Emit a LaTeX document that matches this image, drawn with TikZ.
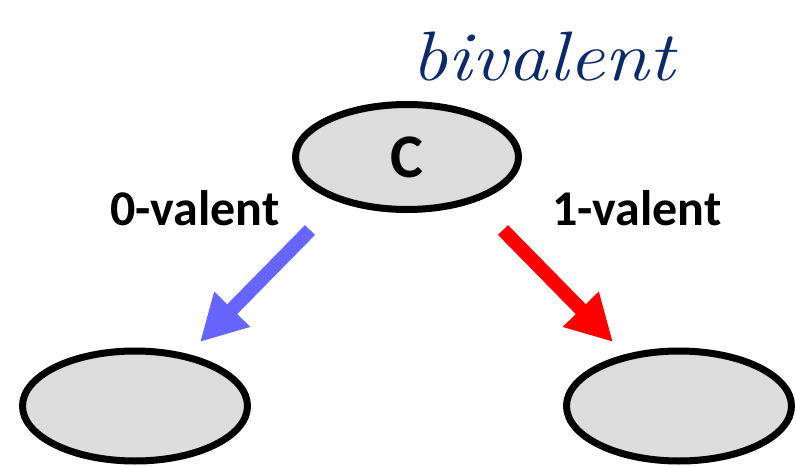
\documentclass[tikz,border=0pt]{standalone}
\usepackage{fontspec}
\setmainfont{Latin Modern Roman}
\newfontfamily\labelfont{Carlito}
\usetikzlibrary{shapes.geometric,arrows.meta}

\definecolor{stategray}{HTML}{DCDCDC}
\definecolor{zeroblue}{HTML}{6666FF}
\definecolor{onered}{HTML}{FF0000}
\definecolor{inkblue}{HTML}{0B2A6B}

\tikzset{
  state/.style={ellipse, draw=black, line width=7pt, fill=stategray, inner sep=0pt},
  valence/.style={font=\labelfont\bfseries\fontsize{50}{50}\selectfont, anchor=base},
  bigarrow/.style={line width=14pt, -{Triangle[length=46pt,width=47pt]}},
  note/.style={font=\rmfamily\itshape\fontsize{70}{70}\selectfont, text=inkblue, anchor=base, xscale=1.15}
}

\begin{document}
\begin{tikzpicture}[x=1pt,y=-1pt]
  \useasboundingbox (0,0) rectangle (796,466);

  % configurations
  \node[state, minimum width=223pt, minimum height=105pt] (c) at (407,157)
    {\labelfont\bfseries\fontsize{62}{62}\selectfont C};
  \node[state, minimum width=225pt, minimum height=110pt] (left) at (135,406) {};
  \node[state, minimum width=225pt, minimum height=110pt] (right) at (679,406) {};

  % handwritten annotation
  \node[note] (biv) at (543,80) {bivalent};

  % edge labels
  \node[valence] (zero) at (195,225) {0-valent};
  \node[valence] (one) at (637,225) {1-valent};

  % arrows towards the successor configurations
  \coordinate (b0) at (310,230);
  \coordinate (b1) at (200,342);
  \coordinate (r0) at (503,230);
  \coordinate (r1) at (613,342);
  \draw[bigarrow, zeroblue] (b0) -- (b1);
  \draw[bigarrow, onered] (r0) -- (r1);
\end{tikzpicture}
\end{document}
